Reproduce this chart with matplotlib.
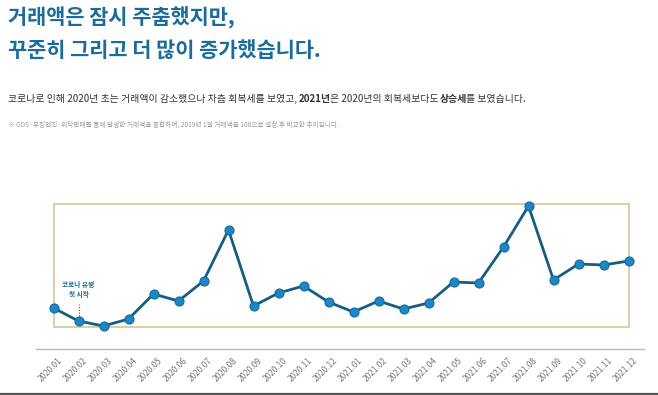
import matplotlib
matplotlib.use('Agg')
import numpy as np
import matplotlib.pyplot as plt
import matplotlib.transforms as mtransforms
from matplotlib.patches import Rectangle
from matplotlib.lines import Line2D

plt.rcParams['font.family'] = ['Noto Sans CJK KR', 'DejaVu Sans']

# monthly transaction index (2019.01 = 100 basis)
months = ['2020.01', '2020.02', '2020.03', '2020.04', '2020.05', '2020.06',
          '2020.07', '2020.08', '2020.09', '2020.10', '2020.11', '2020.12',
          '2021.01', '2021.02', '2021.03', '2021.04', '2021.05', '2021.06',
          '2021.07', '2021.08', '2021.09', '2021.10', '2021.11', '2021.12']
values = [32, 19, 14, 21, 46, 39, 59, 110, 34, 47, 54, 38,
          28, 39, 31, 37, 58, 57, 93, 134, 60, 76, 75, 79]

title_lines = ['거래액은 잠시 주춤했지만,', '꾸준히 그리고 더 많이 증가했습니다.']
sub_parts = [('코로나로 인해 2020년 초는 거래액이 감소했으나 차츰 회복세를 보였고, ', 'normal'),
             ('2021년', 'bold'),
             ('은 2020년의 회복세보다도 ', 'normal'),
             ('상승세', 'bold'),
             ('를 보였습니다.', 'normal')]
note = '※ GDS·부킹엔진·위탁판매를 통해 발생한 거래액을 종합하여, 2019년 1월 거래액을 100으로 설정 후 비교한 추이입니다.'
covid_label = '코로나 유행\n첫 시작'

W, H = 658, 395
fig = plt.figure(figsize=(W / 100, H / 100), dpi=100)
fig.patch.set_facecolor('white')

title_color = '#1b6c9b'
fig.text(8 / W, 1 - 18 / H, title_lines[0], fontsize=15, fontweight='bold',
         color=title_color, va='center', ha='left')
fig.text(8 / W, 1 - 50 / H, title_lines[1], fontsize=15, fontweight='bold',
         color=title_color, va='center', ha='left')

# subtitle: normal and bold pieces placed one after another
renderer = fig.canvas.get_renderer()
x_px = 8
for txt, wt in sub_parts:
    t = fig.text(x_px / W, 1 - 99 / H, txt, fontsize=7.1, fontweight=wt,
                 color='#333333', va='center', ha='left')
    x_px += t.get_window_extent(renderer=renderer).width - 1

fig.text(8 / W, 1 - 125 / H, note, fontsize=4.75, color='#9a9a9a',
         va='center', ha='left')

# plot area
ax = fig.add_axes([36 / W, 46 / H, 608 / W, 149 / H])
x = np.arange(len(months))
ax.set_xlim(-0.7, 23.62)
ax.set_ylim(-9, 140)

ax.add_patch(Rectangle((0, 13), 23, 123, fill=False, edgecolor='#d9c592',
                       lw=1.2, zorder=1))
ax.plot(x, values, color='#155d82', lw=2, zorder=3)
ax.plot(x, values, 'o', ms=6.5, mfc='#1c86c6', mec='#17699c', mew=0.8, zorder=4)

# covid annotation
ax.plot([1, 1], [values[1] + 5, 36], ls=(0, (1, 1.5)), color='#555555', lw=0.8, zorder=2)
ax.text(1, 50, covid_label, fontsize=4.8, fontweight='bold', color='#1b6c8a',
        ha='center', va='center', linespacing=1.5)

for s in ['top', 'right', 'left']:
    ax.spines[s].set_visible(False)
ax.spines['bottom'].set_color('#bbbbbb')
ax.spines['bottom'].set_linewidth(1)
ax.set_yticks([])
ax.set_xticks(x)
ax.set_xticklabels(months, rotation=45, ha='right', va='top',
                   rotation_mode='anchor', fontsize=6, color='#777777')
ax.tick_params(axis='x', length=0, pad=5)
offset = mtransforms.ScaledTranslation(4 / 100, 0, fig.dpi_scale_trans)
for lbl in ax.get_xticklabels():
    lbl.set_transform(lbl.get_transform() + offset)

# dark frame line at the very bottom
fig.add_artist(Line2D([0, 1], [1.5 / H, 1.5 / H], color='#555555', lw=1.6,
                      transform=fig.transFigure))

fig.savefig('out.png', dpi=100, facecolor='white')
